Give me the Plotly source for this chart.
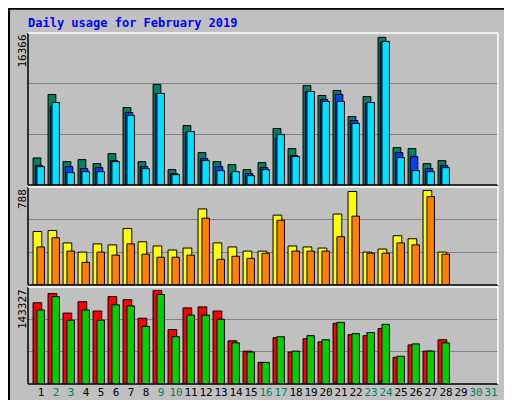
import plotly.graph_objects as go

days = list(range(1, 29))
hits = [2916, 9756, 2520, 2736, 2304, 3384, 8352, 2520, 10836, 1656, 6408, 3492, 2520, 2196,
        1656, 2412, 6084, 3924, 10728, 9648, 10188, 7380, 9540, 15912, 4032, 3924, 2304, 2628]
files = [2088, 8460, 1980, 1764, 1872, 2628, 7812, 1980, 9864, 1224, 5652, 2844, 1980, 1224,
         1224, 1872, 5004, 3168, 10080, 9216, 9756, 6948, 8784, 15372, 3492, 3060, 1764, 2088]
pages = [1980, 8892, 1332, 1440, 1440, 2520, 7488, 1764, 9864, 1116, 5760, 2628, 1548, 1440,
         1008, 1656, 5436, 3060, 10080, 9000, 9000, 6624, 8892, 15480, 2952, 1548, 1440, 1872]
visits = [437, 445, 344, 269, 336, 328, 462, 353, 319, 286, 302, 622, 344, 311,
          277, 277, 571, 319, 311, 302, 580, 764, 269, 294, 403, 378, 773, 269]
sites = [311, 386, 277, 185, 269, 244, 336, 252, 227, 227, 244, 546, 210, 235,
         218, 260, 529, 277, 277, 277, 395, 563, 260, 260, 344, 328, 722, 252]
kb_f = [123000, 137000, 107400, 124600, 110500, 132300, 127700, 99600, 141700, 82500, 115200, 116800, 110500, 65400,
        49800, 32700, 70100, 48300, 68500, 63800, 91900, 74700, 73200, 84100, 40500, 59200, 49800, 67000]
kb_in = [800, 1500, 600, 600, 600, 1500, 1500, 600, 1500, 600, 1500, 600, 600, 600,
         600, 600, 1500, 600, 1500, 1500, 3000, 1500, 1500, 4500, 600, 600, 600, 600]
kb_out = [112100, 132300, 96500, 112100, 96500, 119900, 118300, 87200, 135500, 71600, 104300, 104300, 98100, 62300,
          48300, 32700, 71600, 49800, 73200, 67000, 93400, 76300, 77900, 90300, 42000, 60700, 49800, 62300]
max_hits, max_visits, max_kb = 16366, 788, 143327
weekend = [2, 3, 9, 10, 16, 17, 23, 24, 30, 31]

MONO = "DejaVu Sans Mono"
fig = go.Figure()


def bars(y, color, offset, width, axis):
    fig.add_trace(go.Bar(x=days, y=y, offset=offset, width=width, marker_color=color,
                         marker_line=dict(color="black", width=1), xaxis="x" + axis,
                         yaxis="y" + axis, showlegend=False, hoverinfo="skip"))


bars(hits, "#008060", -0.53, 0.52, "")
bars(files, "#0040ff", -0.38, 0.5, "")
bars(pages, "#00e0ff", -0.27, 0.5, "")
bars(visits, "#ffff00", -0.53, 0.58, "2")
bars(sites, "#ff8000", -0.27, 0.5, "2")
bars(kb_f, "#ff0000", -0.53, 0.58, "3")
bars(kb_in, "#0080ff", -0.4, 0.25, "3")
bars(kb_out, "#00d000", -0.27, 0.5, "3")

xr = [1 - 13 / 15, 31 + 7 / 15]
xd = [20 / 512, 490 / 512]
doms = [[0.5575, 0.9375], [0.3075, 0.5525], [0.06, 0.3025]]
tops = [16380, 801, 146900]
layout = dict(width=512, height=400, margin=dict(l=0, r=0, t=0, b=0),
              paper_bgcolor="#c0c0c0", plot_bgcolor="#c0c0c0", barmode="overlay",
              font=dict(family=MONO, size=11, color="black"))
for i, (dom, top) in enumerate(zip(doms, tops)):
    s = "" if i == 0 else str(i + 1)
    layout["xaxis" + s] = dict(domain=xd, range=xr, anchor="y" + s, showgrid=False,
                               zeroline=False, showticklabels=(i == 2), ticks="", tickangle=0,
                               tickvals=list(range(1, 32)),
                               ticktext=[("<span style='color:#008060'>%d</span>" % d) if d in weekend else str(d)
                                         for d in range(1, 32)],
                               tickfont=dict(family=MONO, size=11))
    layout["yaxis" + s] = dict(domain=dom, range=[0, top], showticklabels=False, ticks="",
                               tickvals=[top / 3, 2 * top / 3], gridcolor="#808080",
                               gridwidth=1, zeroline=False)
fig.update_layout(**layout)

shapes = [dict(type="rect", xref="paper", yref="paper", x0=0.002, y0=0.002, x1=0.998, y1=0.998,
               line=dict(color="black", width=2))]
for dom in doms:
    for (x0, y0, x1, y1, c) in [(xd[0], dom[0], xd[0], dom[1], "black"), (xd[0], dom[0], xd[1], dom[0], "black"),
                                (xd[0], dom[1], xd[1], dom[1], "white"), (xd[1], dom[0], xd[1], dom[1], "white")]:
        shapes.append(dict(type="line", xref="paper", yref="paper", x0=x0, y0=y0, x1=x1, y1=y1,
                           line=dict(color=c, width=1.5)))
fig.update_layout(shapes=shapes)

ann = [dict(text="<b>Daily usage for February 2019</b>", x=18 / 512, y=1 - 15 / 400, xanchor="left",
            yanchor="middle", font=dict(family=MONO, size=12, color="#0000ff")),
       dict(text=str(max_hits), x=14 / 512, y=doms[0][1], yanchor="top", textangle=-90),
       dict(text=str(max_visits), x=14 / 512, y=doms[1][1], yanchor="top", textangle=-90),
       dict(text=str(max_kb), x=14 / 512, y=doms[2][1], yanchor="top", textangle=-90)]

# right-hand rotated legends, built piece by piece from the bottom of each panel
CW = 7.0  # px per character
legends = [([("Pages", "#00e0ff"), ("Files", "#0040ff"), ("Hits", "#008060")], doms[0]),
           ([("Sites", "#ff8000"), ("Visits", "#e0e000")], doms[1]),
           ([("kB F", "#ff0000"), ("kB In", "#0080ff"), ("kB Out", "#00c000")], doms[2])]
for parts, dom in legends:
    ypx = dom[0] * 400 + 2
    for j, (word, col) in enumerate(parts):
        if j:
            ann.append(dict(text="/", x=501 / 512, y=(ypx + CW * 1.5) / 400, yanchor="middle",
                            textangle=-90, font=dict(family=MONO, size=11, color="#404040")))
            ypx += CW * 3
        ann.append(dict(text=word, x=501 / 512, y=ypx / 400, yanchor="bottom", textangle=-90,
                        font=dict(family=MONO, size=11, color=col)))
        ypx += CW * len(word)
for a in ann:
    a.update(xref="paper", yref="paper", showarrow=False)
    a.setdefault("xanchor", "center")
    a.setdefault("font", dict(family=MONO, size=11, color="black"))
fig.update_layout(annotations=ann)

fig.write_html("out.html")
